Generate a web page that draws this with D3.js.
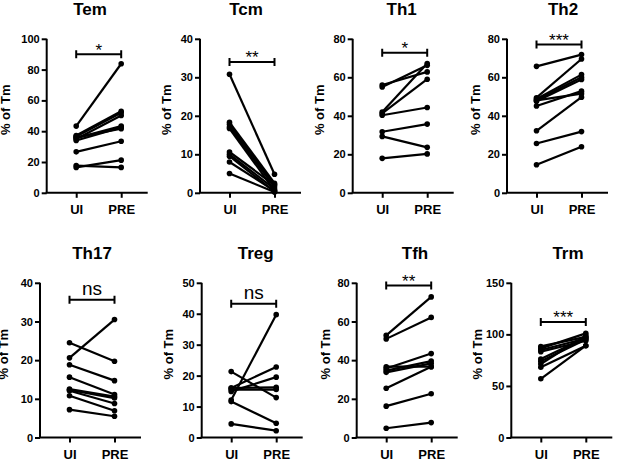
<!DOCTYPE html>
<html><head><meta charset="utf-8">
<script src="https://cdn.jsdelivr.net/npm/d3@7"></script>
<style>
html,body{margin:0;padding:0;background:#fff;}
svg{display:block;}
text{font-family:"Liberation Sans",Arial,sans-serif;}
</style></head>
<body>
<svg id="c" width="617" height="459"></svg>
<script>
// ---- data ----
const panelNames = ["Tem","Tcm","Th1","Th2","Th17","Treg","Tfh","Trm"];
const groups = ["UI","PRE"];
const yAxisLabel = "% of Tm";

const temUI  = [43.3, 37.2, 36.5, 35.0, 35.5, 34.0, 36.0, 26.6, 17.7, 16.5];
const temPRE = [83.8, 53.0, 52.0, 50.2, 43.3, 42.5, 41.6, 33.5, 16.5, 21.2];
const tcmUI  = [30.8, 18.3, 17.8, 17.1, 16.7, 10.6, 10.0, 9.5, 8.0, 5.0];
const tcmPRE = [4.8, 2.5, 2.1, 1.5, 0.6, 2.0, 1.0, 0.3, 0.5, 0.2];
const th1UI  = [56.0, 55.0, 42.0, 41.2, 40.3, 31.7, 29.3, 17.9];
const th1PRE = [62.8, 66.2, 67.2, 59.0, 44.3, 35.7, 23.6, 20.2];
const th2UI  = [65.7, 49.4, 48.8, 48.2, 47.6, 45.1, 48.0, 32.2, 25.6, 14.6];
const th2PRE = [71.8, 69.5, 61.4, 60.0, 58.9, 52.8, 51.5, 49.7, 31.8, 23.9];
const th17UI  = [20.6, 24.5, 18.8, 15.6, 12.5, 12.1, 10.8, 7.2, 12.3];
const th17PRE = [30.5, 19.7, 14.7, 11.1, 10.6, 8.8, 6.9, 5.5, 10.2];
const tregUI  = [12.1, 16.0, 14.9, 21.3, 16.0, 15.5, 11.6, 4.4];
const tregPRE = [39.7, 22.8, 19.5, 12.9, 16.2, 15.5, 4.6, 2.2];
const tfhUI  = [52.8, 51.0, 36.6, 35.7, 34.6, 33.7, 25.5, 16.2, 4.8];
const tfhPRE = [72.7, 62.1, 36.6, 43.4, 39.5, 38.3, 36.6, 22.6, 7.7];
const trmUI  = [88.3, 86.4, 84.8, 83.2, 76.1, 73.9, 71.3, 68.1, 56.9];
const trmPRE = [97.6, 101.0, 96.0, 93.8, 97.0, 95.0, 99.0, 89.0, 89.0];

const uiValues  = [temUI, tcmUI, th1UI, th2UI, th17UI, tregUI, tfhUI, trmUI];
const preValues = [temPRE, tcmPRE, th1PRE, th2PRE, th17PRE, tregPRE, tfhPRE, trmPRE];

const yMax = [100, 40, 80, 80, 40, 50, 80, 150];
const yTickStep = [20, 10, 20, 20, 10, 10, 20, 50];
const sigLabels = ["*", "**", "*", "***", "ns", "ns", "**", "***"];
const sigLevel = [90, 34, 72.8, 77, 35.6, 43.2, 78.6, 112];

// ---- layout (positions, not data) ----
const axisX = [46.7, 200, 352.7, 507, 40, 201.7, 356.7, 511.3];
const rowTop = [38.8, 282.8];
const rowBottom = [192.8, 437.5];
const titleX = [90, 246, 401.7, 563, 92, 255.7, 415, 568];
const titleY = [14.8, 259];
const yLabelOffset = [36.7, 29.3, 28.4, 26.7, 31.7, 29, 26.7, 29.3];

const svg = d3.select("#c");

panelNames.forEach((name, i) => {
  const row = i < 4 ? 0 : 1;
  const ax = axisX[i];
  const y = d3.scaleLinear().domain([0, yMax[i]]).range([rowBottom[row], rowTop[row]]);
  const x = d3.scalePoint().domain(groups).range([ax + 29.5, ax + 74.5]);
  const g = svg.append("g");

  // y axis
  const ticks = d3.range(0, yMax[i] + 0.001, yTickStep[i]);
  const yAxis = d3.axisLeft(y).tickValues(ticks).tickSize(5).tickPadding(2).tickFormat(d3.format("d"));
  const yg = g.append("g").attr("transform", `translate(${ax},0)`).call(yAxis);
  yg.select(".domain").attr("stroke", "#000").attr("stroke-width", 2)
    .attr("d", `M0,${rowTop[row]}V${rowBottom[row]}`);
  yg.selectAll(".tick line").attr("stroke", "#000").attr("stroke-width", 2);
  yg.selectAll(".tick text").attr("fill", "#000").attr("font-size", 11).attr("font-weight", "bold")
    .attr("font-family", "Liberation Sans, Arial, sans-serif");

  // x axis
  const xAxis = d3.axisBottom(x).tickSize(5).tickPadding(7);
  const xg = g.append("g").attr("transform", `translate(0,${rowBottom[row]})`).call(xAxis);
  xg.select(".domain").attr("stroke", "#000").attr("stroke-width", 2)
    .attr("d", `M${ax - 1},0H${ax + 101}`);
  xg.selectAll(".tick line").attr("stroke", "#000").attr("stroke-width", 2);
  xg.selectAll(".tick text").attr("fill", "#000").attr("font-size", 13).attr("font-weight", "bold")
    .attr("font-family", "Liberation Sans, Arial, sans-serif");

  // y label
  const yc = (rowTop[row] + rowBottom[row]) / 2 - 6;
  g.append("text")
    .attr("transform", `translate(${ax - yLabelOffset[i]},${yc}) rotate(-90)`)
    .attr("text-anchor", "middle").attr("font-size", 13).attr("font-weight", "bold")
    .text(yAxisLabel);

  // title
  g.append("text").attr("x", titleX[i]).attr("y", titleY[row])
    .attr("text-anchor", "middle").attr("font-size", 17).attr("font-weight", "bold")
    .text(name);

  // paired lines
  const pairs = uiValues[i].map((u, k) => [u, preValues[i][k]]);
  g.selectAll("line.pair").data(pairs).enter().append("line")
    .attr("x1", x("UI")).attr("x2", x("PRE"))
    .attr("y1", d => y(d[0])).attr("y2", d => y(d[1]))
    .attr("stroke", "#000").attr("stroke-width", 2.2);
  const pts = [];
  pairs.forEach(p => { pts.push(["UI", p[0]]); pts.push(["PRE", p[1]]); });
  g.selectAll("circle").data(pts).enter().append("circle")
    .attr("cx", d => x(d[0])).attr("cy", d => y(d[1])).attr("r", 2.8).attr("fill", "#000");

  // significance bracket
  const by = y(sigLevel[i]);
  const x1 = x("UI"), x2 = x("PRE");
  g.append("path")
    .attr("d", `M${x1},${by}H${x2}M${x1},${by - 4}V${by + 4}M${x2},${by - 4}V${by + 4}`)
    .attr("stroke", "#000").attr("stroke-width", 2).attr("fill", "none");
  const isNs = sigLabels[i] === "ns";
  g.append("text").attr("x", (x1 + x2) / 2).attr("y", isNs ? by - 5 : by + 1.5)
    .attr("text-anchor", "middle").attr("font-size", isNs ? 19 : 17)
    .text(sigLabels[i]);
});
</script>
</body></html>
